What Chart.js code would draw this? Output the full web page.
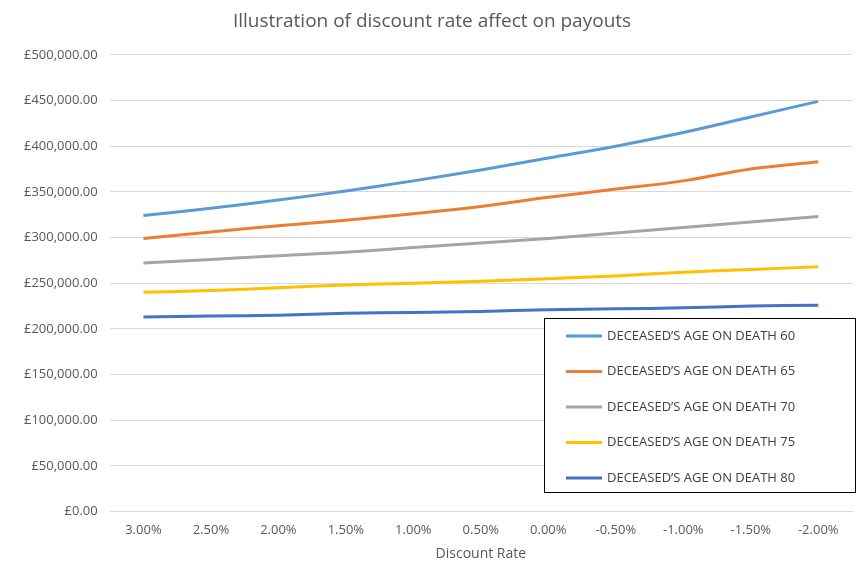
<!DOCTYPE html>
<html>
<head>
<meta charset="utf-8">
<script src="https://cdn.jsdelivr.net/npm/chart.js@4/dist/chart.umd.min.js"></script>
<style>
  body { margin: 0; background: #fff; }
  #wrap { width: 868px; height: 574px; }
</style>
</head>
<body>
<div id="wrap"><canvas id="chart"></canvas></div>
<script>
// discount rate categories
var rates = ["3.00%", "2.50%", "2.00%", "1.50%", "1.00%", "0.50%", "0.00%", "-0.50%", "-1.00%", "-1.50%", "-2.00%"];

// payouts per age on death (GBP)
var age60 = [324000, 332000, 341000, 351000, 362000, 374000, 387000, 400000, 415000, 432000, 449000];
var age65 = [299000, 306000, 313000, 319000, 326000, 334000, 344000, 353000, 362000, 375000, 383000];
var age70 = [272000, 276000, 280000, 284000, 289000, 294000, 299000, 305000, 311000, 317000, 323000];
var age75 = [240000, 242000, 245000, 248000, 250000, 252000, 255000, 258000, 262000, 265000, 268000];
var age80 = [213000, 214000, 215000, 217000, 218000, 219000, 221000, 222000, 223000, 225000, 226000];

var seriesNames = ["DECEASED\u2019S AGE ON DEATH 60", "DECEASED\u2019S AGE ON DEATH 65", "DECEASED\u2019S AGE ON DEATH 70", "DECEASED\u2019S AGE ON DEATH 75", "DECEASED\u2019S AGE ON DEATH 80"];
var colours = ["#5B9BD5", "#ED7D31", "#A5A5A5", "#FFC000", "#4472C4"];
var allData = [age60, age65, age70, age75, age80];

var font = "'Open Sans', 'Liberation Sans', sans-serif";

// legend box drawn inside the plot, bottom right
var boxLegend = {
  id: 'boxLegend',
  afterDraw: function(chart) {
    var ctx = chart.ctx;
    var x = 544, y = 318, w = 311, h = 174;
    ctx.save();
    ctx.fillStyle = '#fff';
    ctx.fillRect(x, y, w, h);
    ctx.strokeStyle = '#000';
    ctx.lineWidth = 1;
    ctx.strokeRect(x + 0.5, y + 0.5, w, h);
    ctx.font = "13px " + font;
    ctx.textBaseline = 'middle';
    chart.data.datasets.forEach(function(ds, i) {
      var ly = y + 18 + i * 35.5;
      ctx.strokeStyle = ds.borderColor;
      ctx.lineWidth = 3;
      ctx.beginPath();
      ctx.moveTo(x + 22, ly);
      ctx.lineTo(x + 58, ly);
      ctx.stroke();
      ctx.fillStyle = '#404040';
      ctx.fillText(ds.label, x + 63, ly);
    });
    ctx.restore();
  }
};

var datasets = [];
for (var i = 0; i < allData.length; i++) {
  datasets.push({
    label: seriesNames[i],
    data: allData[i],
    borderColor: colours[i],
    backgroundColor: colours[i],
    borderWidth: 3,
    pointRadius: 0,
    tension: 0.4,
    fill: false
  });
}

new Chart(document.getElementById('chart').getContext('2d'), {
  type: 'line',
  data: { labels: rates, datasets: datasets },
  options: {
    responsive: true,
    maintainAspectRatio: false,
    animation: false,
    layout: { padding: { left: 12, right: 16, top: 8, bottom: 8 } },
    plugins: {
      legend: { display: false },
      tooltip: { enabled: false },
      title: {
        display: true,
        text: 'Illustration of discount rate affect on payouts',
        color: '#595959',
        font: { family: font, size: 19, weight: 'normal' },
        padding: { top: 2, bottom: 22 }
      }
    },
    scales: {
      x: {
        offset: true,
        grid: { display: false },
        border: { color: '#d9d9d9' },
        ticks: { color: '#595959', font: { family: font, size: 13 } },
        title: { display: true, text: 'Discount Rate', color: '#595959', font: { family: font, size: 14 } }
      },
      y: {
        min: 0,
        max: 500000,
        ticks: {
          stepSize: 50000,
          color: '#595959',
          font: { family: font, size: 13 },
          padding: 12,
          callback: function(v) {
            return '\u00a3' + v.toLocaleString('en-GB', { minimumFractionDigits: 2, maximumFractionDigits: 2 });
          }
        },
        grid: { color: '#d9d9d9', drawTicks: false },
        border: { display: false }
      }
    }
  },
  plugins: [boxLegend]
});
</script>
</body>
</html>
